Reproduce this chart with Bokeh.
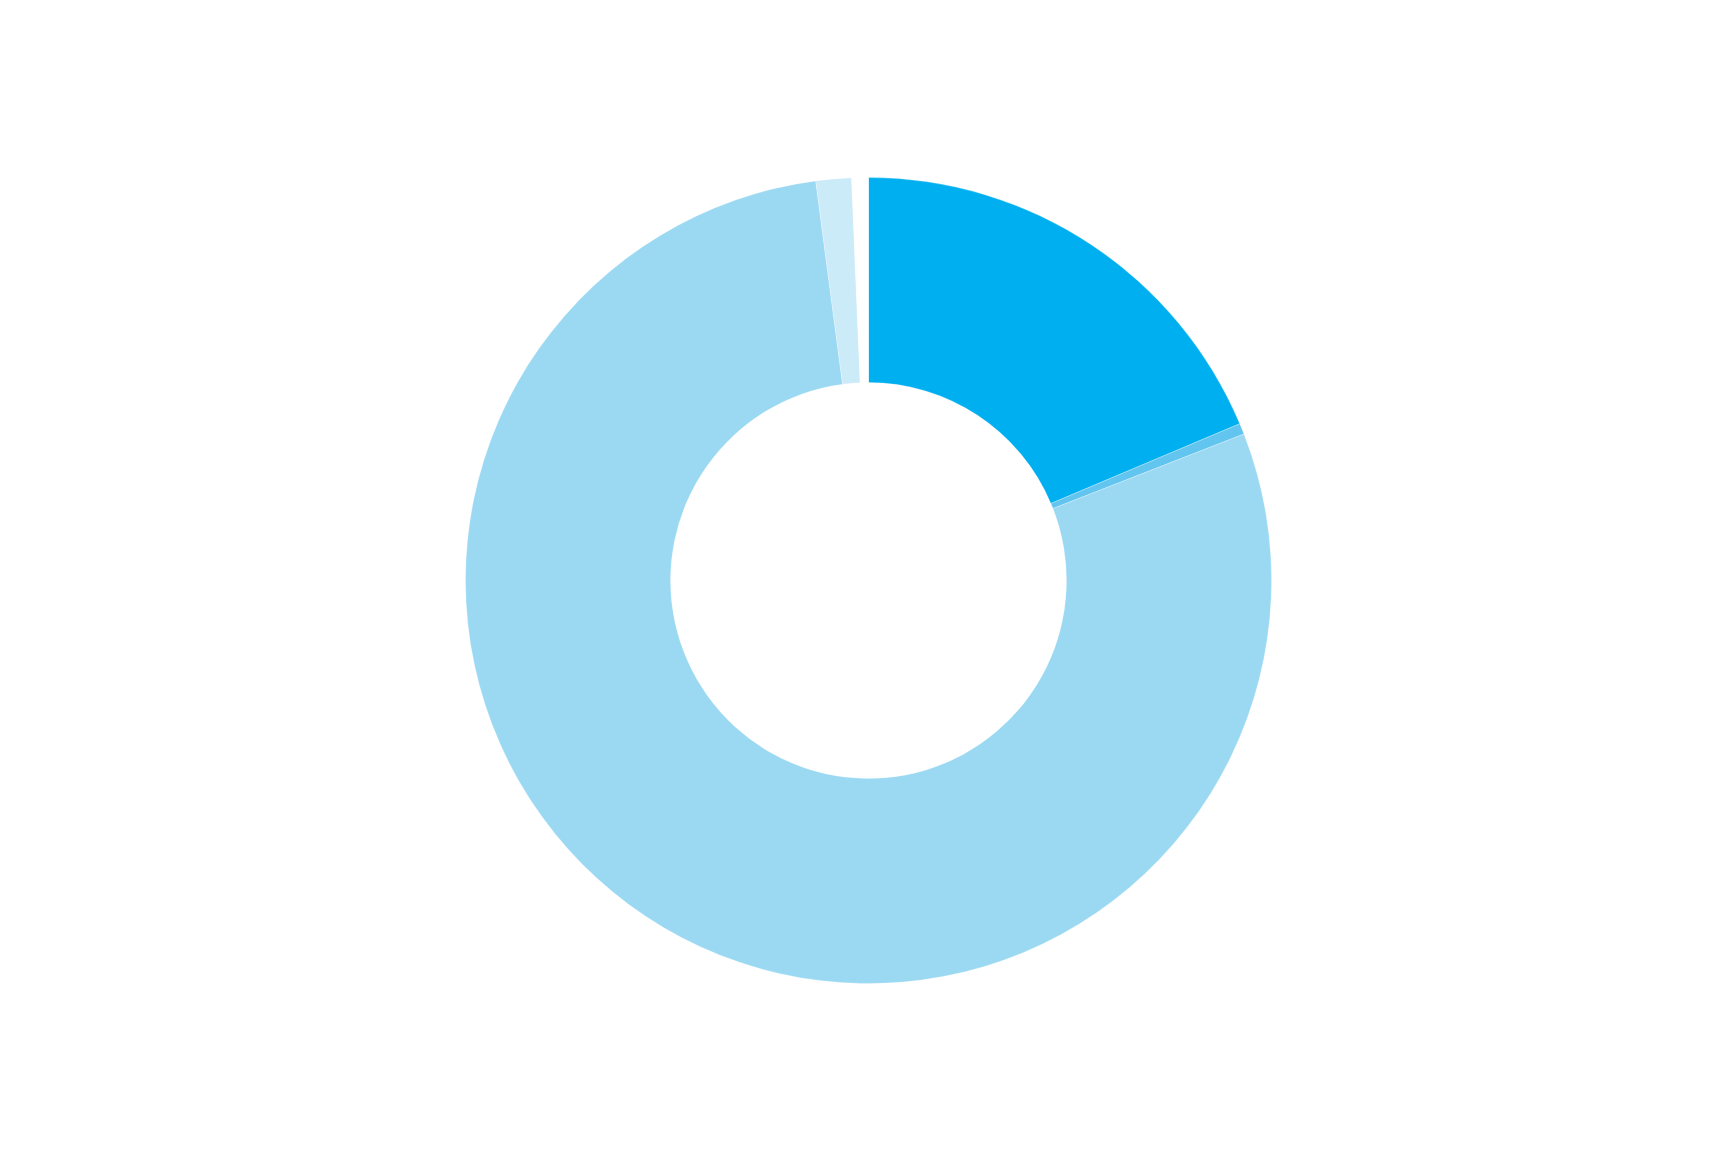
import numpy as np
from bokeh.plotting import figure
from bokeh.models import ColumnDataSource, Range1d
from bokeh.embed import file_html
from bokeh.resources import INLINE

# Data (percent shares, clockwise from 12 o'clock)
categories = ["A", "B", "C", "D", "Gap"]
values = [18.64, 0.44, 78.83, 1.42, 0.67]
colors = ["#00AFEF", "#62C5F0", "#9BD9F3", "#CCEBF8", "#FFFFFF"]

W, H = 1697, 1135
cx, cy = 868, H - 580
r_out, r_in = 403, 198

vals = np.array(values, dtype=float)
frac = vals / vals.sum()
cum = np.concatenate([[0.0], np.cumsum(frac)]) * 2 * np.pi
start = np.pi / 2 - cum[1:]
end = np.pi / 2 - cum[:-1]

src = ColumnDataSource(dict(cat=categories, start=start, end=end, color=colors,
                            x=[cx] * len(values), y=[cy] * len(values)))

p = figure(width=W, height=H, output_backend="svg", toolbar_location=None,
           x_range=Range1d(0, W), y_range=Range1d(0, H), min_border=0)
p.axis.visible = False
p.grid.visible = False
p.outline_line_color = None
p.background_fill_color = "white"
p.border_fill_color = "white"

p.annular_wedge(x="x", y="y", inner_radius=r_in, outer_radius=r_out,
                start_angle="start", end_angle="end", direction="anticlock",
                fill_color="color", line_color="white", line_width=0.25,
                source=src)

open("out.html", "w").write(file_html(p, INLINE))
